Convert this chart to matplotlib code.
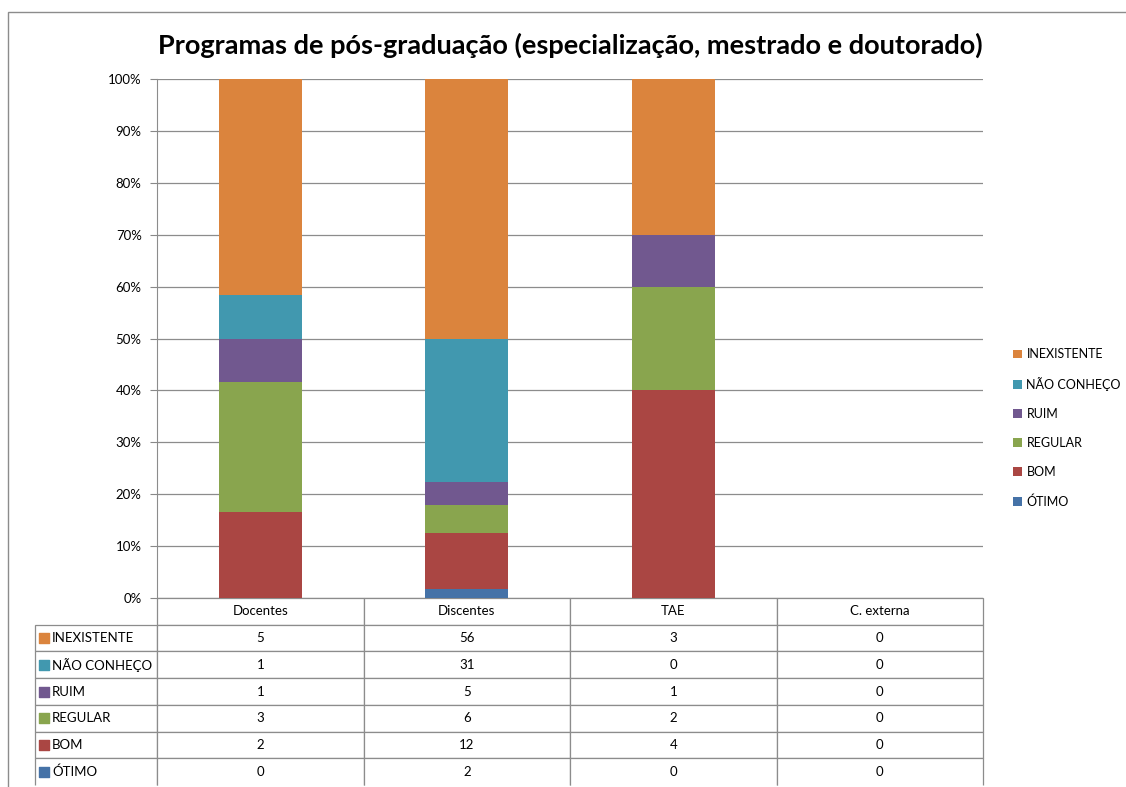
import numpy as np
import matplotlib.pyplot as plt
from matplotlib.patches import Rectangle
from matplotlib.ticker import FuncFormatter

plt.rcParams['font.family'] = ['Lato', 'DejaVu Sans']

# dados
grupos = ['Docentes', 'Discentes', 'TAE', 'C. externa']
respostas = ['ÓTIMO', 'BOM', 'REGULAR', 'RUIM', 'NÃO CONHEÇO', 'INEXISTENTE']
otimo = [0, 2, 0, 0]
bom = [2, 12, 4, 0]
regular = [3, 6, 2, 0]
ruim = [1, 5, 1, 0]
nao_conheco = [1, 31, 0, 0]
inexistente = [5, 56, 3, 0]
cores = ['#4572A7', '#AA4643', '#89A54E', '#71588F', '#4198AF', '#DB843D']

series = [otimo, bom, regular, ruim, nao_conheco, inexistente]
contagens = np.array(series, dtype=float)
totais = contagens.sum(axis=0)
pct = np.divide(contagens, totais, out=np.zeros_like(contagens), where=totais > 0) * 100

W, H = 1126, 787
fig = plt.figure(figsize=(W / 100, H / 100), dpi=100)
ax = fig.add_axes([157 / W, 189 / H, 826 / W, 519 / H])

# borda externa do gráfico
fig.patches.append(Rectangle((8 / W, -0.05), 1.1, 1 - 12 / H + 0.05, transform=fig.transFigure,
                             fill=False, edgecolor='#8c8c8c', linewidth=1, clip_on=False))

x = np.arange(len(grupos))
base = np.zeros(len(grupos))
barras = []
for nome, valores, cor in zip(respostas, pct, cores):
    b = ax.bar(x, valores, width=0.40, bottom=base, color=cor, label=nome, zorder=3)
    barras.append(b)
    base += valores

ax.set_xlim(-0.5, len(grupos) - 0.5)
ax.set_ylim(0, 100)
ax.set_yticks(np.arange(0, 101, 10))
ax.yaxis.set_major_formatter(FuncFormatter(lambda v, p: f'{v:.0f}%'))
ax.tick_params(axis='y', labelsize=9.5, length=5, color='#888888', pad=6)
ax.set_xticks([])
ax.grid(axis='y', color='#8c8c8c', linewidth=0.9, zorder=0)
for s in ['top', 'right', 'bottom']:
    ax.spines[s].set_visible(False)
ax.spines['left'].set_color('#8c8c8c')

ax.set_title('Programas de pós-graduação (especialização, mestrado e doutorado)',
             fontsize=19.5, fontweight='bold', pad=18)

# tabela de dados
nomes = respostas[::-1]
cores_tab = cores[::-1]
x0 = (35 - 157) / 826
alt = (785 - 598) / 519
tab = ax.table(cellText=[[''] + [str(v) for v in serie] for serie in series[::-1]],
               colLabels=[''] + grupos,
               colWidths=[122, 206.5, 206.5, 206.5, 206.5],
               cellLoc='center', bbox=[x0, -alt, 1 - x0, alt])
tab.auto_set_font_size(False)
tab.set_fontsize(9.5)
for (r, c), cell in tab.get_celld().items():
    cell.set_edgecolor('#8c8c8c')
    cell.set_linewidth(0.9)
    if r == len(nomes):
        cell.visible_edges = 'LRT'
tab[0, 0].visible_edges = 'open'
for i, nome in enumerate(nomes):
    cel = tab[i + 1, 0]
    cel.get_text().set_text(nome)
    cel.get_text().set_ha('left')
    cel._loc = 'left'
    cel.PAD = 17 / 122

h = alt / 7
for i, cor in enumerate(cores_tab):
    yc = -(i + 1.5) * h
    ax.scatter([(44 - 157) / 826], [yc], marker='s', s=42, color=cor,
               transform=ax.transAxes, clip_on=False, zorder=5)

# legenda
fig.legend(handles=barras[::-1], labels=nomes, loc='center left',
           bbox_to_anchor=(1002 / W, 1 - 428 / H), frameon=False, fontsize=9,
           handlelength=0.7, handleheight=0.7, handletextpad=0.35, labelspacing=1.36)

fig.savefig('out.png', dpi=100)
